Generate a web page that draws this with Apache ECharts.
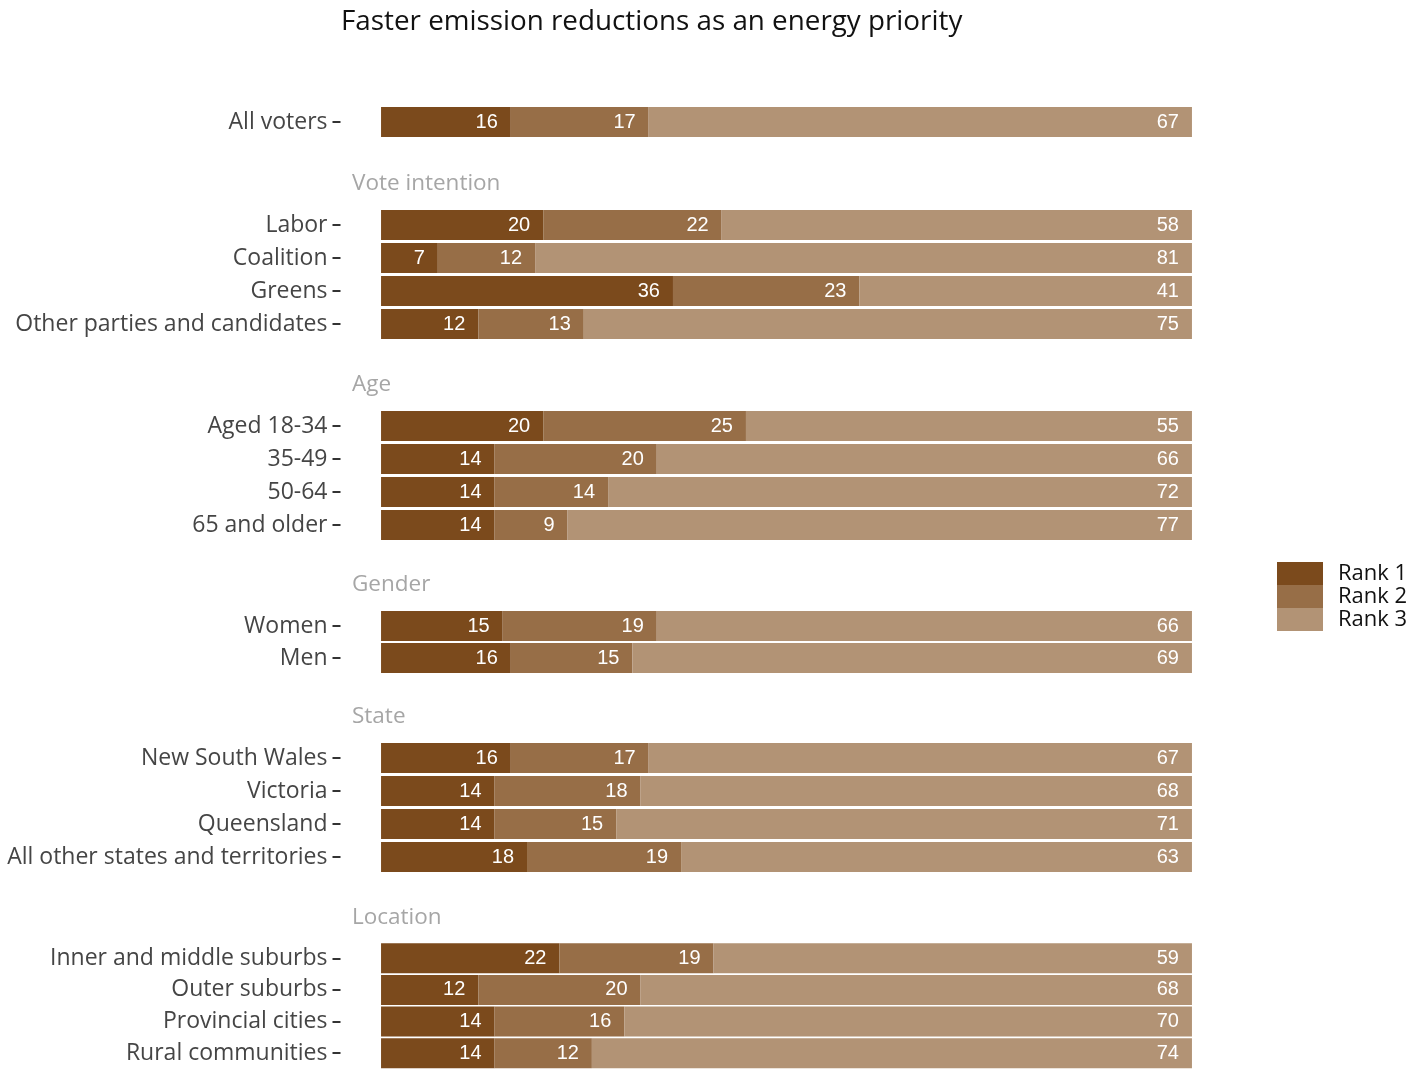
<!DOCTYPE html>
<html>
<head>
<meta charset="utf-8">
<script src="https://cdn.jsdelivr.net/npm/echarts@6/dist/echarts.min.js"></script>
<style>
html,body{margin:0;padding:0;background:#fff;}
#chart{width:1413px;height:1069px;}
</style>
</head>
<body>
<div id="chart"></div>
<script>
// ---- data ----
var groupNames = ['', 'Vote intention', 'Age', 'Gender', 'State', 'Location'];
var categories = [
  'All voters',
  'Labor', 'Coalition', 'Greens', 'Other parties and candidates',
  'Aged 18-34', '35-49', '50-64', '65 and older',
  'Women', 'Men',
  'New South Wales', 'Victoria', 'Queensland', 'All other states and territories',
  'Inner and middle suburbs', 'Outer suburbs', 'Provincial cities', 'Rural communities'
];
var categoryGroup = [0, 1,1,1,1, 2,2,2,2, 3,3, 4,4,4,4, 5,5,5,5];
var rank1 = [16, 20, 7, 36, 12, 20, 14, 14, 14, 15, 16, 16, 14, 14, 18, 22, 12, 14, 14];
var rank2 = [17, 22, 12, 23, 13, 25, 20, 14, 9, 19, 15, 17, 18, 15, 19, 19, 20, 16, 12];
var rank3 = [67, 58, 81, 41, 75, 55, 66, 72, 77, 66, 69, 67, 68, 71, 63, 59, 68, 70, 74];
var seriesNames = ['Rank 1', 'Rank 2', 'Rank 3'];
var chartTitle = 'Faster emission reductions as an energy priority';

// ---- layout (styling only) ----
var colors = ['#7b4a1c', '#976e47', '#b29375'];
var panelLayout = [ // centre of first row, row band height
  {c: 122, band: 33},
  {c: 225, band: 33},
  {c: 426, band: 33},
  {c: 626, band: 32},
  {c: 758, band: 33},
  {c: 959, band: 33}
];
var labelFont = 'Open Sans';

var chart = echarts.init(document.getElementById('chart'), null, {renderer: 'canvas'});
var grids = [], xAxes = [], yAxes = [], series = [], graphics = [];
var valueSets = [rank1, rank2, rank3];

groupNames.forEach(function (g, gi) {
  var idx = [];
  categories.forEach(function (c, i) { if (categoryGroup[i] === gi) idx.push(i); });
  var L = panelLayout[gi];
  var n = idx.length;
  grids.push({left: 340.5, right: 180.5, top: L.c - L.band / 2, height: n * L.band, containLabel: false});
  xAxes.push({type: 'value', gridIndex: gi, min: -5, max: 105, show: false});
  yAxes.push({
    type: 'category', gridIndex: gi, inverse: true,
    data: idx.map(function (i) { return categories[i]; }),
    axisLine: {show: false, onZero: false},
    axisTick: {show: true, length: 8, alignWithLabel: true, lineStyle: {color: '#333', width: 2}},
    axisLabel: {margin: 13, fontSize: 23, fontFamily: labelFont, color: '#454545', padding: [3, 0, 0, 0]},
    splitLine: {show: false}
  });
  valueSets.forEach(function (vals, si) {
    series.push({
      type: 'bar', name: seriesNames[si], stack: 'g' + gi,
      xAxisIndex: gi, yAxisIndex: gi, barWidth: 30,
      itemStyle: {color: colors[si]},
      label: {show: true, position: 'insideRight', distance: 13, color: '#fff',
              fontSize: 20, fontFamily: 'Liberation Sans'},
      data: idx.map(function (i) { return vals[i]; })
    });
  });
  if (g) {
    graphics.push({
      type: 'text', x: 352, y: L.c - 41,
      style: {text: g, fontSize: 22.5, fontFamily: labelFont, fill: '#a6a6a6', verticalAlign: 'middle'}
    });
  }
});

graphics.push({
  type: 'text', x: 341, y: 22,
  style: {text: chartTitle, fontSize: 27.8, fontFamily: labelFont, fill: '#111', verticalAlign: 'middle'}
});

chart.setOption({
  animation: false,
  backgroundColor: '#fff',
  grid: grids,
  xAxis: xAxes,
  yAxis: yAxes,
  legend: {
    data: seriesNames, orient: 'vertical', left: 1277, top: 562, padding: 0,
    itemWidth: 46, itemHeight: 23, itemGap: 0, icon: 'rect',
    textStyle: {fontSize: 22, fontFamily: labelFont, color: '#111', padding: [0, 0, 0, 10]}
  },
  graphic: graphics,
  series: series
});
</script>
</body>
</html>
